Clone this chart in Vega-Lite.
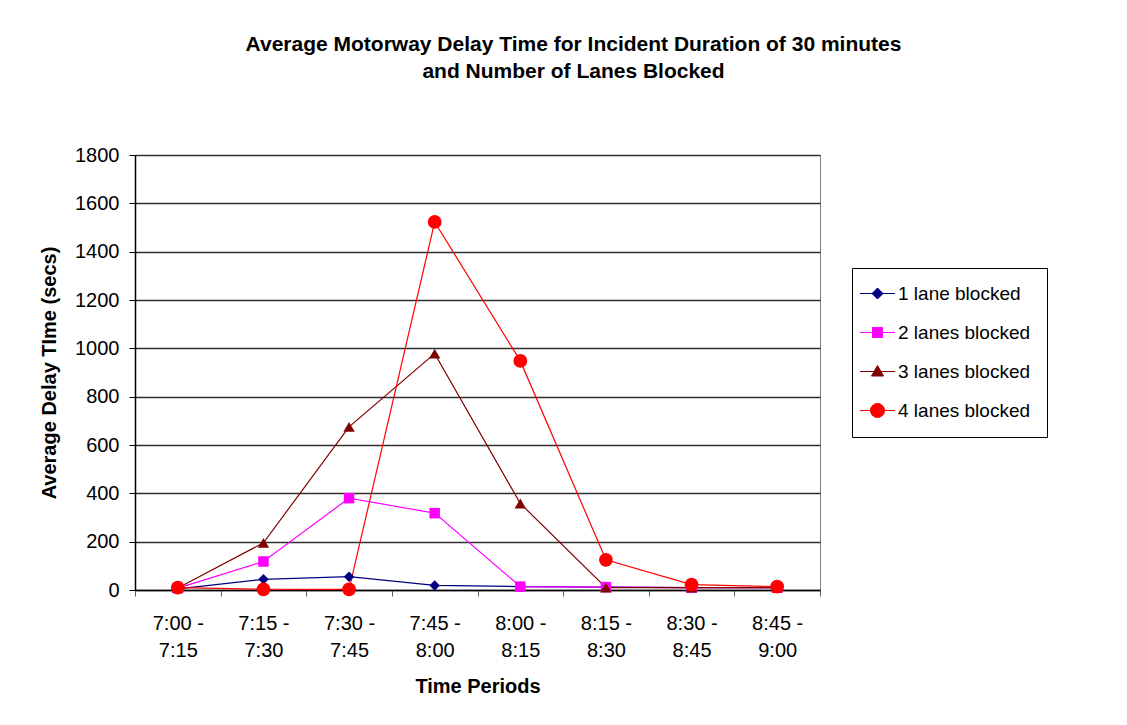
{
  "$schema": "https://vega.github.io/schema/vega-lite/v6.json",
  "autosize": {"type": "none"},
  "padding": {"left": 135, "top": 155, "right": 307, "bottom": 135},
  "width": 685,
  "height": 435,
  "background": "white",
  "config": {
    "font": "Liberation Sans",
    "view": {"stroke": "#808080", "strokeWidth": 1}
  },
  "title": {
    "text": ["Average Motorway Delay Time for Incident Duration of 30 minutes", "and Number of Lanes Blocked"],
    "fontSize": 21,
    "fontWeight": "bold",
    "color": "#000000",
    "lineHeight": 27,
    "anchor": "middle",
    "dx": 96,
    "offset": 63
  },
  "data": {
    "values": [
      {"period": "7:00 - 7:15", "series": "1 lane blocked", "delay": 5},
      {"period": "7:15 - 7:30", "series": "1 lane blocked", "delay": 44},
      {"period": "7:30 - 7:45", "series": "1 lane blocked", "delay": 55},
      {"period": "7:45 - 8:00", "series": "1 lane blocked", "delay": 19},
      {"period": "8:00 - 8:15", "series": "1 lane blocked", "delay": 14},
      {"period": "8:15 - 8:30", "series": "1 lane blocked", "delay": 12},
      {"period": "8:30 - 8:45", "series": "1 lane blocked", "delay": 10},
      {"period": "8:45 - 9:00", "series": "1 lane blocked", "delay": 10},
      {"period": "7:00 - 7:15", "series": "2 lanes blocked", "delay": 8},
      {"period": "7:15 - 7:30", "series": "2 lanes blocked", "delay": 118},
      {"period": "7:30 - 7:45", "series": "2 lanes blocked", "delay": 380},
      {"period": "7:45 - 8:00", "series": "2 lanes blocked", "delay": 318},
      {"period": "8:00 - 8:15", "series": "2 lanes blocked", "delay": 14},
      {"period": "8:15 - 8:30", "series": "2 lanes blocked", "delay": 12},
      {"period": "8:30 - 8:45", "series": "2 lanes blocked", "delay": 10},
      {"period": "8:45 - 9:00", "series": "2 lanes blocked", "delay": 10},
      {"period": "7:00 - 7:15", "series": "3 lanes blocked", "delay": 8},
      {"period": "7:15 - 7:30", "series": "3 lanes blocked", "delay": 195},
      {"period": "7:30 - 7:45", "series": "3 lanes blocked", "delay": 675},
      {"period": "7:45 - 8:00", "series": "3 lanes blocked", "delay": 978},
      {"period": "8:00 - 8:15", "series": "3 lanes blocked", "delay": 358},
      {"period": "8:15 - 8:30", "series": "3 lanes blocked", "delay": 10},
      {"period": "8:30 - 8:45", "series": "3 lanes blocked", "delay": 10},
      {"period": "8:45 - 9:00", "series": "3 lanes blocked", "delay": 10},
      {"period": "7:00 - 7:15", "series": "4 lanes blocked", "delay": 10},
      {"period": "7:15 - 7:30", "series": "4 lanes blocked", "delay": 3},
      {"period": "7:30 - 7:45", "series": "4 lanes blocked", "delay": 3},
      {"period": "7:45 - 8:00", "series": "4 lanes blocked", "delay": 1523},
      {"period": "8:00 - 8:15", "series": "4 lanes blocked", "delay": 948},
      {"period": "8:15 - 8:30", "series": "4 lanes blocked", "delay": 125},
      {"period": "8:30 - 8:45", "series": "4 lanes blocked", "delay": 22},
      {"period": "8:45 - 9:00", "series": "4 lanes blocked", "delay": 14}
    ]
  },
  "encoding": {
    "x": {
      "field": "period",
      "type": "nominal",
      "sort": null,
      "bandPosition": 0.5,
      "scale": {"type": "band", "paddingInner": 0, "paddingOuter": 0},
      "axis": {
        "title": "Time Periods",
        "titleFontSize": 20,
        "titleFontWeight": "bold",
        "titleColor": "#000000",
        "titlePadding": 16,
        "labelAngle": 0,
        "labelFontSize": 20,
        "labelColor": "#000000",
        "labelPadding": 17,
        "labelLineHeight": 27,
        "labelExpr": "isValid(datum.value) ? [split(datum.value, ' ')[0] + ' -', split(datum.value, ' ')[2]] : ''",
        "tickBand": "extent",
        "tickSize": 6,
        "tickColor": "#606060",
        "domainColor": "#000000",
        "domainWidth": 1.5,
        "grid": false
      }
    },
    "y": {
      "field": "delay",
      "type": "quantitative",
      "scale": {"domain": [0, 1800], "nice": false},
      "axis": {
        "title": "Average Delay TIme (secs)",
        "titleFontSize": 20,
        "titleFontWeight": "bold",
        "titleColor": "#000000",
        "titlePadding": 15,
        "values": [0, 200, 400, 600, 800, 1000, 1200, 1400, 1600, 1800],
        "format": "d",
        "labelFontSize": 20,
        "labelColor": "#000000",
        "labelPadding": 10,
        "tickSize": 6,
        "tickColor": "#000000",
        "domainColor": "#000000",
        "domainWidth": 1.5,
        "grid": true,
        "gridColor": "#303030",
        "gridWidth": 1.5
      }
    },
    "color": {
      "field": "series",
      "type": "nominal",
      "scale": {
        "domain": ["1 lane blocked", "2 lanes blocked", "3 lanes blocked", "4 lanes blocked"],
        "range": ["#000080", "#FF00FF", "#800000", "#FF0000"]
      },
      "legend": {
        "title": null,
        "orient": "none",
        "legendX": 717,
        "legendY": 113,
        "padding": 16,
        "strokeColor": "#000000",
        "fillColor": "#ffffff",
        "labelFontSize": 19,
        "labelColor": "#000000",
        "labelOffset": 11,
        "rowPadding": 19,
        "symbolSize": 100,
        "symbolStrokeWidth": 1
      }
    }
  },
  "layer": [
    {
      "mark": {"type": "line", "strokeWidth": 1.2}
    },
    {
      "transform": [{"filter": {"field": "series", "equal": "1 lane blocked"}}],
      "mark": {"type": "point", "filled": true, "opacity": 1, "shape": "diamond", "size": 110}
    },
    {
      "transform": [{"filter": {"field": "series", "equal": "2 lanes blocked"}}],
      "mark": {"type": "point", "filled": true, "opacity": 1, "shape": "square", "size": 110}
    },
    {
      "transform": [{"filter": {"field": "series", "equal": "3 lanes blocked"}}],
      "mark": {"type": "point", "filled": true, "opacity": 1, "shape": "triangle-up", "size": 130}
    },
    {
      "transform": [{"filter": {"field": "series", "equal": "4 lanes blocked"}}],
      "mark": {"type": "point", "filled": true, "opacity": 1, "shape": "circle", "size": 190}
    },
    {
      "description": "Legend key: a short line with the series marker through it; no rows pass the filter, so only the legend is drawn.",
      "transform": [{"filter": "datum.delay < 0"}],
      "mark": {"type": "point", "filled": true, "opacity": 1, "strokeWidth": 1},
      "encoding": {
        "shape": {
          "field": "series",
          "type": "nominal",
          "scale": {
            "domain": ["1 lane blocked", "2 lanes blocked", "3 lanes blocked", "4 lanes blocked"],
            "range": [
              "M-3.5,0H3.5M0,-1.1L1.1,0L0,1.1L-1.1,0Z",
              "M-3.5,0H3.5M-1,-1H1V1H-1Z",
              "M-3.5,0H3.5M0,-1.2L1.2,0.9H-1.2Z",
              "M-3.5,0H3.5M-1.4,0A1.4,1.4 0 1,0 1.4,0A1.4,1.4 0 1,0 -1.4,0Z"
            ]
          },
          "legend": {
            "title": null,
            "orient": "none",
            "legendX": 717,
            "legendY": 113,
            "padding": 16,
            "strokeColor": "#000000",
            "fillColor": "#ffffff",
            "labelFontSize": 19,
            "labelColor": "#000000",
            "labelOffset": 11,
            "rowPadding": 19,
            "symbolSize": 100,
            "symbolStrokeWidth": 1
          }
        }
      }
    }
  ]
}
